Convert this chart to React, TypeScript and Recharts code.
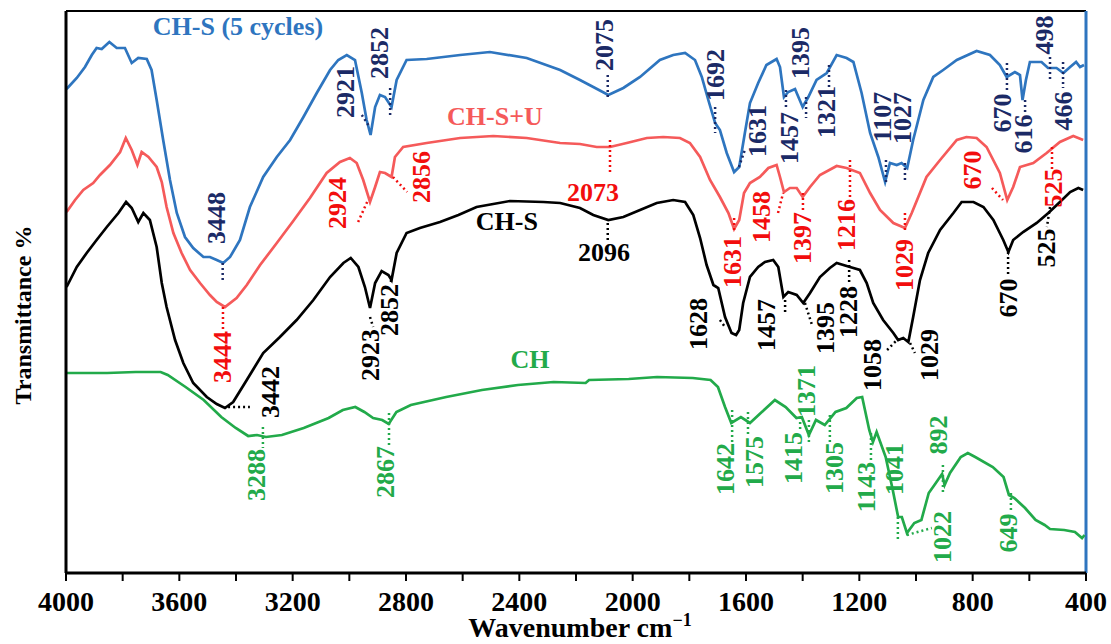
import { LineChart, Line, XAxis, YAxis, ReferenceLine, ReferenceDot } from "recharts";

const serif = "'Liberation Serif', 'Times New Roman', serif";

// CH-S (5 cycles)
const chs5Wn = [3998, 3962, 3933, 3909, 3892, 3874, 3847, 3821, 3792, 3768, 3745, 3715, 3698, 3680, 3657, 3633, 3609, 3580, 3551, 3515, 3492, 3468, 3445, 3421, 3386, 3351, 3304, 3256, 3209, 3162, 3115, 3068, 3039, 3009, 2980, 2956, 2939, 2925, 2909, 2892, 2874, 2851, 2833, 2798, 2727, 2609, 2504, 2374, 2256, 2186, 2139, 2086, 2033, 1974, 1904, 1857, 1815, 1780, 1756, 1733, 1709, 1692, 1668, 1642, 1624, 1604, 1586, 1557, 1528, 1492, 1480, 1466, 1451, 1427, 1400, 1380, 1351, 1315, 1280, 1245, 1221, 1192, 1162, 1133, 1109, 1092, 1068, 1051, 1031, 1010, 974, 939, 904, 856, 786, 739, 704, 680, 651, 633, 624, 612, 598, 557, 534, 504, 480, 456, 435, 421, 407];
const chs5T = [484, 495, 506, 518, 525, 524, 531, 525, 525, 510, 515, 514, 503, 473, 433, 393, 360, 336, 325, 316, 316, 313, 310, 316, 333, 366, 396, 416, 433, 456, 480, 503, 513, 518, 513, 480, 453, 438, 466, 478, 476, 466, 493, 513, 514, 518, 521, 515, 503, 493, 486, 478, 485, 496, 513, 518, 520, 513, 496, 473, 450, 443, 420, 401, 406, 440, 470, 490, 508, 514, 506, 476, 481, 484, 466, 476, 493, 500, 518, 515, 511, 480, 440, 416, 391, 410, 408, 410, 405, 433, 473, 496, 503, 513, 522, 518, 508, 496, 501, 498, 473, 493, 511, 511, 505, 505, 500, 506, 511, 506, 508];

// CH-S+U
const chsuWn = [3998, 3968, 3939, 3904, 3880, 3845, 3809, 3789, 3768, 3748, 3733, 3709, 3680, 3662, 3645, 3621, 3592, 3562, 3527, 3492, 3468, 3439, 3398, 3362, 3315, 3256, 3198, 3139, 3080, 3033, 2998, 2974, 2951, 2927, 2909, 2892, 2874, 2851, 2839, 2810, 2727, 2609, 2492, 2374, 2256, 2186, 2127, 2080, 2021, 1950, 1892, 1833, 1798, 1762, 1727, 1692, 1662, 1642, 1624, 1607, 1586, 1551, 1521, 1492, 1480, 1466, 1445, 1421, 1400, 1374, 1339, 1280, 1245, 1198, 1162, 1127, 1080, 1039, 1015, 963, 915, 856, 822, 786, 751, 704, 678, 657, 633, 586, 539, 492, 445, 410];
const chsuT = [361, 373, 383, 390, 398, 408, 421, 435, 423, 408, 421, 416, 406, 391, 366, 340, 320, 303, 290, 278, 271, 266, 275, 288, 308, 330, 352, 375, 400, 411, 415, 410, 393, 371, 386, 401, 400, 396, 416, 426, 430, 435, 437, 435, 430, 429, 426, 426, 430, 435, 436, 435, 430, 416, 393, 376, 360, 344, 353, 380, 390, 396, 405, 408, 396, 381, 385, 385, 376, 386, 398, 407, 405, 400, 380, 363, 350, 345, 360, 396, 413, 433, 436, 435, 426, 400, 373, 386, 406, 410, 420, 431, 437, 433];

// CH-S
const chsWn = [3998, 3962, 3927, 3892, 3856, 3815, 3788, 3768, 3745, 3727, 3704, 3680, 3662, 3645, 3615, 3586, 3551, 3503, 3468, 3439, 3410, 3362, 3304, 3245, 3186, 3127, 3068, 3021, 2995, 2968, 2945, 2927, 2909, 2886, 2862, 2851, 2833, 2798, 2751, 2680, 2615, 2551, 2433, 2315, 2256, 2186, 2139, 2086, 2033, 1974, 1915, 1857, 1815, 1786, 1762, 1739, 1715, 1698, 1674, 1651, 1635, 1624, 1610, 1586, 1557, 1533, 1504, 1486, 1468, 1451, 1421, 1398, 1374, 1339, 1304, 1280, 1233, 1198, 1174, 1151, 1116, 1080, 1063, 1045, 1027, 1010, 986, 957, 915, 868, 839, 797, 762, 727, 692, 674, 657, 622, 574, 533, 492, 456, 427, 410];
const chsT = [286, 306, 320, 333, 346, 360, 371, 365, 351, 360, 353, 326, 290, 266, 233, 210, 190, 176, 169, 165, 171, 193, 220, 236, 253, 273, 296, 310, 315, 306, 286, 265, 290, 302, 298, 293, 320, 340, 345, 351, 358, 366, 372, 371, 370, 365, 358, 353, 356, 363, 370, 373, 371, 358, 335, 308, 288, 285, 256, 240, 238, 243, 270, 296, 306, 311, 313, 306, 276, 281, 278, 270, 280, 296, 305, 310, 306, 303, 290, 270, 253, 240, 233, 235, 231, 256, 293, 320, 343, 360, 371, 371, 366, 353, 333, 321, 333, 341, 350, 360, 371, 381, 385, 383];

// CH
const chWn = [3997, 3855, 3754, 3666, 3641, 3578, 3514, 3452, 3401, 3357, 3326, 3294, 3238, 3161, 3073, 3023, 2979, 2947, 2916, 2884, 2861, 2834, 2783, 2658, 2532, 2405, 2279, 2166, 2154, 2014, 1914, 1788, 1725, 1699, 1674, 1652, 1618, 1586, 1548, 1498, 1460, 1422, 1403, 1378, 1353, 1322, 1284, 1246, 1209, 1190, 1165, 1152, 1139, 1107, 1082, 1063, 1050, 1032, 1006, 981, 955, 930, 908, 899, 880, 842, 817, 791, 729, 691, 672, 653, 615, 578, 546, 527, 477, 439, 414, 405];
const chT = [200, 200, 201, 201, 198, 186, 173, 156, 145, 137, 138, 136, 138, 145, 155, 163, 166, 161, 155, 153, 149, 161, 168, 176, 183, 188, 191, 190, 193, 194, 196, 195, 193, 186, 166, 150, 156, 150, 160, 173, 166, 155, 156, 138, 153, 148, 161, 165, 175, 176, 143, 131, 141, 116, 83, 56, 56, 40, 50, 53, 80, 90, 99, 88, 100, 116, 120, 116, 106, 96, 78, 75, 65, 53, 48, 44, 43, 41, 35, 38];

const xTicks = [4000, 3800, 3600, 3400, 3200, 3000, 2800, 2600, 2400, 2200, 2000, 1800, 1600, 1400, 1200, 1000, 800, 600, 400];

// peak labels: text centre (wavenumber, T) and dotted leader [x1, y1, x2, y2]
type Note = { text: string; x: number; y: number; flat?: boolean; dots?: number[] };

const chs5Notes: Note[] = [
  { text: "3448", x: 3468, y: 355, dots: [3447, 310, 3447, 290] },
  { text: "2921", x: 3015, y: 481, dots: [2956, 458, 2933, 448] },
  { text: "2852", x: 2892, y: 520, dots: [2856, 485, 2856, 458] },
  { text: "2075", x: 2098, y: 528, dots: [2088, 498, 2088, 475] },
  { text: "1692", x: 1709, y: 498, dots: [1709, 466, 1709, 440] },
  { text: "1631", x: 1559, y: 442, dots: [1625, 406, 1604, 423] },
  { text: "1457", x: 1445, y: 435, dots: [1459, 483, 1459, 463] },
  { text: "1395", x: 1406, y: 520, dots: [1388, 476, 1388, 455] },
  { text: "1321", x: 1315, y: 461, dots: [1307, 508, 1307, 486] },
  { text: "1107", x: 1117, y: 456, dots: [1106, 413, 1106, 390] },
  { text: "1027", x: 1046, y: 455, dots: [1039, 410, 1039, 390] },
  { text: "670", x: 693, y: 460, dots: [679, 510, 679, 483] },
  { text: "616", x: 622, y: 439, dots: [615, 473, 615, 458] },
  { text: "498", x: 545, y: 538, dots: [527, 516, 527, 493] },
  { text: "466", x: 478, y: 462, dots: [481, 511, 481, 485] },
];

const chsuNotes: Note[] = [
  { text: "3444", x: 3446, y: 216, dots: [3446, 266, 3446, 241] },
  { text: "2924", x: 3042, y: 370, dots: [2969, 351, 2934, 373] },
  { text: "2856", x: 2747, y: 396, dots: [2846, 396, 2796, 381] },
  { text: "2073", x: 2140, y: 381, flat: true, dots: [2080, 433, 2080, 400] },
  { text: "1631", x: 1648, y: 311, dots: [1642, 355, 1642, 340] },
  { text: "1458", x: 1547, y: 356, dots: [1487, 360, 1469, 380] },
  { text: "1397", x: 1399, y: 335, dots: [1399, 380, 1399, 363] },
  { text: "1216", x: 1247, y: 348, dots: [1233, 413, 1233, 373] },
  { text: "1029", x: 1042, y: 308, dots: [1039, 360, 1039, 340] },
  { text: "670", x: 802, y: 403, dots: [732, 385, 693, 373] },
  { text: "525", x: 513, y: 385, dots: [520, 426, 520, 403] },
];

const chsNotes: Note[] = [
  { text: "3442", x: 3280, y: 181, dots: [3428, 166, 3351, 166] },
  { text: "2923", x: 2924, y: 218, dots: [2927, 256, 2916, 246] },
  { text: "2852", x: 2860, y: 263, dots: [2853, 293, 2853, 288] },
  { text: "2096", x: 2101, y: 321, flat: true, dots: [2088, 350, 2088, 333] },
  { text: "1628", x: 1766, y: 249, dots: [1692, 253, 1674, 246] },
  { text: "1457", x: 1529, y: 248, dots: [1462, 273, 1462, 260] },
  { text: "1395", x: 1318, y: 245, dots: [1392, 270, 1367, 248] },
  { text: "1228", x: 1240, y: 261, dots: [1236, 313, 1236, 288] },
  { text: "1058", x: 1155, y: 208, dots: [1102, 223, 1067, 233] },
  { text: "1029", x: 954, y: 218, dots: [1021, 230, 1004, 220] },
  { text: "670", x: 675, y: 275, dots: [675, 321, 675, 296] },
  { text: "525", x: 541, y: 325, dots: [527, 366, 538, 346] },
];

const chNotes: Note[] = [
  { text: "3288", x: 3329, y: 98, dots: [3305, 146, 3305, 125] },
  { text: "2867", x: 2874, y: 101, dots: [2860, 160, 2860, 126] },
  { text: "1642", x: 1671, y: 104, dots: [1649, 163, 1649, 130] },
  { text: "1575", x: 1570, y: 111, dots: [1593, 161, 1593, 138] },
  { text: "1415", x: 1434, y: 115, dots: [1409, 156, 1409, 143] },
  { text: "1371", x: 1385, y: 182, dots: [1378, 153, 1378, 130] },
  { text: "1305", x: 1289, y: 105, dots: [1304, 158, 1304, 131] },
  { text: "1143", x: 1173, y: 86, dots: [1159, 140, 1159, 113] },
  { text: "1041", x: 1076, y: 104, dots: [1064, 56, 1064, 31] },
  { text: "1022", x: 905, y: 36, dots: [1032, 38, 944, 45] },
  { text: "892", x: 919, y: 138, dots: [905, 108, 905, 80] },
  { text: "649", x: 675, y: 40, dots: [665, 80, 665, 60] },
];

const seriesNames = [
  { text: "CH-S (5 cycles)", x: 3393, y: 547, color: "#2e75bf" },
  { text: "CH-S+U", x: 2486, y: 457, color: "#f55a5a" },
  { text: "CH-S", x: 2444, y: 352, color: "#000000" },
  { text: "CH", x: 2362, y: 214, color: "#22aa4a" },
];

const toRows = (wn: number[], t: number[]) => wn.map((w, i) => ({ wn: w, t: t[i] }));

function renderNotes(notes: Note[], color: string, key: string) {
  const out: any[] = [];
  notes.forEach((n, i) => {
    if (n.dots) {
      out.push(
        <ReferenceLine
          key={`${key}-l${i}`}
          segment={[{ x: n.dots[0], y: n.dots[1] }, { x: n.dots[2], y: n.dots[3] }]}
          stroke={color}
          strokeWidth={2.5}
          strokeDasharray="2 3"
          ifOverflow="visible"
        />
      );
    }
    out.push(
      <ReferenceDot
        key={`${key}-t${i}`}
        x={n.x}
        y={n.y}
        r={0}
        ifOverflow="visible"
        shape={(p: any) => (
          <text
            x={p.cx}
            y={p.cy}
            fill={color}
            fontSize={26}
            fontWeight="bold"
            fontFamily={serif}
            textAnchor="middle"
            dominantBaseline="central"
            transform={n.flat ? undefined : `rotate(-90 ${p.cx} ${p.cy})`}
          >
            {n.text}
          </text>
        )}
      />
    );
  });
  return out;
}

export default function App() {
  return (
    <div style={{ position: "absolute", left: 0, top: 0, width: 1111, height: 644, background: "#fff" }}>
      <LineChart width={1111} height={644} margin={{ top: 11, right: 25, bottom: 11, left: 0 }}>
        <XAxis
          type="number"
          dataKey="wn"
          domain={[400, 4000]}
          reversed
          ticks={xTicks}
          interval={0}
          tickFormatter={(v: number) => (v % 400 === 0 ? String(v) : "")}
          height={60}
          tickSize={8}
          tickMargin={10}
          axisLine={{ stroke: "#000", strokeWidth: 3 }}
          tickLine={{ stroke: "#000", strokeWidth: 2 }}
          tick={{ fill: "#000", fontSize: 28, fontWeight: "bold", fontFamily: serif }}
          label={() => (
            <text x={580} y={637} textAnchor="middle" fill="#000" fontSize={28} fontWeight="bold" fontFamily={serif}>
              Wavenumber cm
              <tspan dy={-11} fontSize={18}>−1</tspan>
            </text>
          )}
        />
        <YAxis
          type="number"
          domain={[0, 562]}
          width={66}
          tick={false}
          tickLine={false}
          axisLine={{ stroke: "#000", strokeWidth: 3 }}
          label={() => (
            <text
              x={23}
              y={315}
              transform="rotate(-90 23 315)"
              textAnchor="middle"
              dominantBaseline="central"
              fill="#000"
              fontSize={24}
              fontWeight="bold"
              fontFamily={serif}
            >
              Transmittance %
            </text>
          )}
        />
        <ReferenceLine y={562} stroke="#000" strokeWidth={2} />
        <ReferenceLine x={400} stroke="#2e75bf" strokeWidth={3} />

        <Line data={toRows(chs5Wn, chs5T)} dataKey="t" stroke="#2e75bf" strokeWidth={2.7} dot={false} isAnimationActive={false} />
        <Line data={toRows(chsuWn, chsuT)} dataKey="t" stroke="#f55a5a" strokeWidth={2.7} dot={false} isAnimationActive={false} />
        <Line data={toRows(chsWn, chsT)} dataKey="t" stroke="#000000" strokeWidth={2.7} dot={false} isAnimationActive={false} />
        <Line data={toRows(chWn, chT)} dataKey="t" stroke="#22aa4a" strokeWidth={2.7} dot={false} isAnimationActive={false} />

        {renderNotes(chs5Notes, "#1b2a66", "b")}
        {renderNotes(chsuNotes, "#f20d0d", "r")}
        {renderNotes(chsNotes, "#000000", "k")}
        {renderNotes(chNotes, "#22aa4a", "g")}

        {seriesNames.map((s, i) => (
          <ReferenceDot
            key={`name${i}`}
            x={s.x}
            y={s.y}
            r={0}
            ifOverflow="visible"
            shape={(p: any) => (
              <text
                x={p.cx}
                y={p.cy}
                fill={s.color}
                fontSize={26}
                fontWeight="bold"
                fontFamily={serif}
                textAnchor="middle"
                dominantBaseline="central"
              >
                {s.text}
              </text>
            )}
          />
        ))}
      </LineChart>
    </div>
  );
}
